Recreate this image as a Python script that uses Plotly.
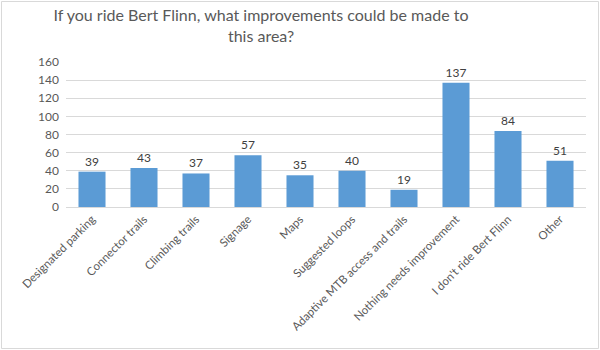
import plotly.graph_objects as go

categories = ["Designated parking", "Connector trails", "Climbing trails", "Signage", "Maps",
              "Suggested loops", "Adaptive MTB access and trails", "Nothing needs improvement",
              "I don't ride Bert Flinn", "Other"]
values = [39, 43, 37, 57, 35, 40, 19, 137, 84, 51]
y_ticks = [0, 20, 40, 60, 80, 100, 120, 140, 160]

W, H = 600, 350
L, R, T, B = 66, 14, 62, 143
pw, ph = W - L - R, H - T - B

fig = go.Figure(go.Bar(
    x=categories, y=values,
    marker=dict(color="#5b9bd5", line=dict(width=0)),
    text=values, textposition="outside", cliponaxis=False,
    textfont=dict(size=12, color="#404040", family="Lato"),
))

fig.update_layout(
    width=W, height=H,
    margin=dict(l=L, r=R, t=T, b=B),
    paper_bgcolor="white", plot_bgcolor="white",
    bargap=0.48,
    font=dict(family="Lato", color="#595959"),
    title=dict(text="If you ride Bert Flinn, what improvements could be made to<br>this area?",
               x=261 / W, xanchor="center", y=1 - 21 / H, yanchor="middle",
               font=dict(size=16, color="#595959", family="Lato")),
    showlegend=False,
    xaxis=dict(tickangle=-45, tickfont=dict(size=11.5, color="#595959"),
               showline=True, linecolor="#d9d9d9", linewidth=1, ticks="",
               showgrid=False),
    yaxis=dict(range=[0, 160], tickvals=y_ticks, tickfont=dict(size=12, color="#595959"),
               showgrid=True, gridcolor="#d9d9d9", gridwidth=1, zeroline=False,
               showline=False, ticks="", ticklabelstandoff=6),
    shapes=[dict(type="rect", xref="paper", yref="paper",
                 x0=(1.5 - L) / pw, x1=(W - 1.5 - L) / pw,
                 y0=-(B - 1.5) / ph, y1=1 + (T - 1.5) / ph,
                 line=dict(color="#d9d9d9", width=1))],
)
fig.write_html("out.html")
